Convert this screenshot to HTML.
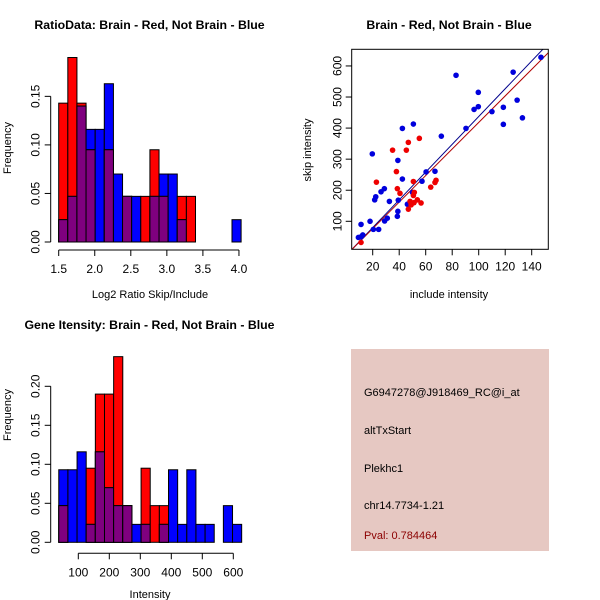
<!DOCTYPE html>
<html><head><meta charset="utf-8"><style>
body{margin:0;background:#fff}
svg{display:block;font-family:"Liberation Sans",sans-serif}
</style></head><body>
<svg id="s" width="600" height="600" viewBox="0 0 600 600">
<rect x="351" y="349" width="198" height="202" fill="#e6c8c2"/>
<g font-size="11" fill="#000">
<text x="364" y="396">G6947278@J918469_RC@i_at</text>
<text x="364" y="434">altTxStart</text>
<text x="364" y="472">Plekhc1</text>
<text x="364" y="509">chr14.7734-1.21</text>
<text x="364" y="539" fill="#8b0000">Pval: 0.784464</text>
</g>
</svg>
<script>
// Ratio histogram data
const ratioRed  = [0.143,0.19,0.143,0.095,0,0.095,0,0.047,0,0.047,0.095,0.047,0,0.047,0.047,0,0,0,0,0];
const ratioBlue = [0.023,0.047,0.14,0.116,0.116,0.163,0.07,0.047,0.047,0,0.047,0.07,0.07,0.023,0,0,0,0,0,0.023];
const ratioXTicks = [1.5,2.0,2.5,3.0,3.5,4.0];
const ratioYTicks = [0,0.05,0.10,0.15];
// Intensity histogram data
const intRed  = [0.047,0,0,0.095,0.19,0.19,0.238,0.047,0,0.095,0.047,0.047,0,0,0,0,0,0,0,0];
const intBlue = [0.093,0.093,0.116,0.023,0.116,0.07,0.047,0.047,0.023,0.023,0,0.023,0.093,0.023,0.093,0.023,0.023,0,0.047,0.023];
const intXTicks = [100,200,300,400,500,600];
const intYTicks = [0,0.05,0.10,0.15,0.20];
// Scatter data
const blueX = [9.2,11.2,12.5,11.2,18,20.5,24.5,19.7,21.5,22.3,26.3,28.8,29,31,32.6,39,39.3,39,38.6,42.4,42.4,50.7,50,46.2,57.2,60.3,67,71.8,82.9,90.4,96.5,99.7,99.7,110,118.6,118.6,126,129,133,147];
const blueY = [48,50,56,90,100,74,74,317,169,179,195,205,101,110,164,296,168,132,116,399,236,413,193,155,229,259,261,374,570,399,460,469,515,453,467,412,580,490,433,628];
const redX = [11.2,22.8,35,37.9,38.6,40.6,45.4,46.9,55.2,50.7,51.4,50.7,51.2,53.7,56.5,48.2,49,46.9,63.8,67,67.8];
const redY = [32,226,329,260,205,190,329,354,367,228,193,183,160,169,159,164,153,139,210,225,232];
const blueFit = [-9.8,4.47];
const redFit = [-8.9,4.27];
const scXTicks = [20,40,60,80,100,120,140];
const scYTicks = [100,200,300,400,500,600];

const NS="http://www.w3.org/2000/svg", svg=document.getElementById('s');
function mk(tag,attrs,parent){const e=document.createElementNS(NS,tag);for(const k in attrs)e.setAttribute(k,attrs[k]);(parent||svg).appendChild(e);return e;}
function txt(x,y,s,opt,parent){const e=mk('text',Object.assign({x:x,y:y,'text-anchor':'middle','font-size':11},opt||{}),parent);e.textContent=s;return e;}

function hist(cfg){
  const g=mk('g',{});
  
  
  const X=v=>cfg.x0px+(v-cfg.x0)*cfg.xs, Y=v=>cfg.y0px-v*cfg.ys;
  for(let i=0;i<cfg.red.length;i++){
    const a=X(cfg.start+i*cfg.w), b=X(cfg.start+(i+1)*cfg.w);
    const r=cfg.red[i], bl=cfg.blue[i], m=Math.min(r,bl);
    const draw=(v,col,nm)=>{ if(v<=0)return; const e=mk('rect',{x:a,y:Y(v),width:b-a,height:Y(0)-Y(v),fill:col,stroke:'#000','stroke-width':1},g);
      
      };
    if(bl>=r){draw(bl,'#0000ff','bar-blue');draw(r,'#ff0000','bar-red');}else{draw(r,'#ff0000','bar-red');draw(bl,'#0000ff','bar-blue');}
    draw(m,'#7f007f','bar-overlap');
  }
  const ax=cfg.axisX, ay=cfg.axisY;
  const ya=mk('g',{},g);
  
  
  const yt=cfg.yTicks;
  mk('line',{x1:ay,x2:ay,y1:Y(yt[0]),y2:Y(yt[yt.length-1]),stroke:'#000'},ya);
  yt.forEach(v=>{mk('line',{x1:ay-6,x2:ay,y1:Y(v),y2:Y(v),stroke:'#000'},ya);
    txt(0,0,v.toFixed(2),{transform:`translate(${ay-11},${Y(v)}) rotate(-90)`,'font-size':12},ya);});
  const xa=mk('g',{},g);
  
  
  const xt=cfg.xTicks;
  mk('line',{x1:X(xt[0]),x2:X(xt[xt.length-1]),y1:ax,y2:ax,stroke:'#000'},xa);
  xt.forEach(v=>{mk('line',{x1:X(v),x2:X(v),y1:ax,y2:ax+6,stroke:'#000'},xa);
    txt(X(v),ax+23,cfg.fmt(v),{'font-size':12},xa);});
  const t=txt(cfg.titleX,cfg.titleY,cfg.title,{'font-weight':'bold','font-size':12.3},g);
  
  const xl=txt(cfg.xlabX,cfg.xlabY,cfg.xlab,{},g);
  
  const yl=txt(0,0,'Frequency',{transform:`translate(11,${cfg.ylabY}) rotate(-90)`},g);
  
}
hist({name:'ratio-histogram',red:ratioRed,blue:ratioBlue,start:1.5,w:0.1265,x0:1.5,x0px:58.7,xs:72.1,y0px:242,ys:971,
  xTicks:ratioXTicks,yTicks:ratioYTicks,axisX:250,axisY:50.7,fmt:v=>v.toFixed(1),
  title:'RatioData: Brain - Red, Not Brain - Blue',titleX:149.5,titleY:29,xlab:'Log2 Ratio Skip/Include',xlabX:150,xlabY:298,ylabY:148});
hist({name:'intensity-histogram',red:intRed,blue:intBlue,start:37,w:29.5,x0:100,x0px:78.3,xs:0.31,y0px:542.3,ys:780,
  xTicks:intXTicks,yTicks:intYTicks,axisX:553.3,axisY:50.7,fmt:v=>String(v),
  title:'Gene Itensity: Brain - Red, Not Brain - Blue',titleX:149.5,titleY:329,xlab:'Intensity',xlabX:150,xlabY:598,ylabY:415});

// scatter
(function(){
  const g=mk('g',{});
  
  
  const X=v=>372.7+(v-20)*1.325, Y=v=>221.3-(v-100)*0.3107;
  const L=351.7,R=548.3,T=49.3,B=249.3;
  const cp=mk('clipPath',{id:'cp'},g);
  mk('rect',{x:L,y:T,width:R-L,height:B-T},cp);
  const xmin=(L-372.7)/1.325+20, xmax=(R-372.7)/1.325+20;
  [[blueFit,'#00008b','fit-line-blue'],[redFit,'#b00000','fit-line-red']].forEach(([f,c,n])=>{
    const l=mk('line',{x1:X(xmin),y1:Y(f[0]+f[1]*xmin),x2:X(xmax),y2:Y(f[0]+f[1]*xmax),stroke:c,'stroke-width':1,'clip-path':'url(#cp)'},g);
    
    });
  blueX.forEach((v,i)=>{const c=mk('circle',{cx:X(v),cy:Y(blueY[i]),r:2.8,fill:'#0000dd'},g);
    
    });
  redX.forEach((v,i)=>{const c=mk('circle',{cx:X(v),cy:Y(redY[i]),r:2.8,fill:'#ee0000'},g);
    
    });
  mk('rect',{x:L,y:T,width:R-L,height:B-T,fill:'none',stroke:'#000'},g);
  scXTicks.forEach(v=>{mk('line',{x1:X(v),x2:X(v),y1:B,y2:B+6,stroke:'#000'},g);txt(X(v),B+21,String(v),{'font-size':12},g);});
  scYTicks.forEach(v=>{mk('line',{x1:L-6,x2:L,y1:Y(v),y2:Y(v),stroke:'#000'},g);
    txt(0,0,String(v),{transform:`translate(${L-10},${Y(v)}) rotate(-90)`,'font-size':12},g);});
  const t=txt(449,29,'Brain - Red, Not Brain - Blue',{'font-weight':'bold','font-size':12.3},g);
  
  const xl=txt(449,298,'include intensity',{},g);
  
  const yl=txt(0,0,'skip intensity',{transform:'translate(311,150) rotate(-90)'},g);
  
})();
</script>
</body></html>
